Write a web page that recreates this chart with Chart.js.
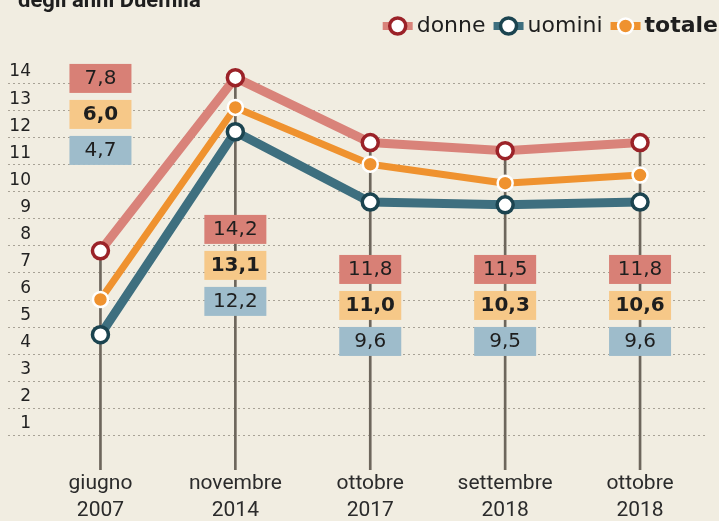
<!DOCTYPE html>
<html lang="it">
<head>
<meta charset="utf-8">
<title>Disoccupazione degli anni Duemila</title>
<script src="https://cdn.jsdelivr.net/npm/chart.js@4.4.1/dist/chart.umd.min.js"></script>
<style>
  html, body { margin: 0; padding: 0; background: #f1ede1; }
  #wrap { position: relative; width: 719px; height: 521px; }
</style>
</head>
<body>
<div id="wrap"><canvas id="chart"></canvas></div>
<script>
const titleText = 'degli anni Duemila';
const categories = [['giugno', '2007'], ['novembre', '2014'], ['ottobre', '2017'], ['settembre', '2018'], ['ottobre', '2018']];
const donne = [7.8, 14.2, 11.8, 11.5, 11.8];
const uomini = [4.7, 12.2, 9.6, 9.5, 9.6];
const totale = [6.0, 13.1, 11.0, 10.3, 10.6];
const yTickLabels = [1, 2, 3, 4, 5, 6, 7, 8, 9, 10, 11, 12, 13, 14];

// where the first value box of each column sits (in axis units)
const boxAnchor = [14.19, 8.61, 7.13, 7.13, 7.13];

const colors = {
    donneLine: '#d9837a', donnePoint: '#9b2228', donneBox: '#d88076',
    totaleLine: '#ef922f', totaleBox: '#f6c888',
    uominiLine: '#3e6f7f', uominiPoint: '#1b4450', uominiBox: '#9ebccb',
    stem: '#6d665c', grid: '#a8a296', text: '#1e1e1e'
};

function fmt(v) {
    return v.toFixed(1).replace('.', ',');
}

const gridPlugin = {
    id: 'dottedGrid',
    beforeDatasetsDraw(chart) {
        const ctx = chart.ctx;
        const y = chart.scales.y;
        ctx.save();
        ctx.strokeStyle = colors.grid;
        ctx.lineWidth = 1.2;
        ctx.setLineDash([2, 3]);
        yTickLabels.forEach(v => {
            const py = Math.round(y.getPixelForValue(v)) + 0.5;
            ctx.beginPath();
            ctx.moveTo(8, py);
            ctx.lineTo(chart.chartArea.right, py);
            ctx.stroke();
        });
        ctx.restore();
    }
};

const boxPlugin = {
    id: 'valueBoxes',
    afterDatasetsDraw(chart) {
        const ctx = chart.ctx;
        const x = chart.scales.x;
        const y = chart.scales.y;
        const rows = [
            { data: donne, bg: colors.donneBox, weight: 'normal' },
            { data: totale, bg: colors.totaleBox, weight: 'bold' },
            { data: uomini, bg: colors.uominiBox, weight: 'normal' }
        ];
        ctx.save();
        ctx.textAlign = 'center';
        ctx.textBaseline = 'middle';
        categories.forEach((c, i) => {
            const cx = x.getPixelForValue(i);
            const top = y.getPixelForValue(boxAnchor[i]);
            rows.forEach((r, k) => {
                const cy = top + k * 36;
                ctx.fillStyle = r.bg;
                ctx.fillRect(cx - 31, cy - 14, 62, 29);
                ctx.fillStyle = colors.text;
                ctx.font = r.weight + ' 20px "DejaVu Sans"';
                ctx.fillText(fmt(r.data[i]), cx, cy + 1);
            });
        });
        ctx.restore();
    }
};

function drawMarker(ctx, x, y, ds) {
    ctx.save();
    ctx.strokeStyle = ds.borderColor;
    ctx.lineWidth = 8;
    ctx.beginPath();
    ctx.moveTo(x, y);
    ctx.lineTo(x + 30, y);
    ctx.stroke();
    ctx.beginPath();
    ctx.arc(x + 15, y, ds.pointRadius, 0, Math.PI * 2);
    ctx.fillStyle = ds.pointBackgroundColor;
    ctx.fill();
    ctx.lineWidth = ds.pointBorderWidth;
    ctx.strokeStyle = ds.pointBorderColor;
    ctx.stroke();
    ctx.restore();
}

const headerPlugin = {
    id: 'header',
    afterDraw(chart) {
        const ctx = chart.ctx;
        ctx.save();
        ctx.fillStyle = colors.text;
        ctx.font = 'bold 22px Roboto';
        ctx.textBaseline = 'alphabetic';
        ctx.fillText(titleText, 18, 7);

        const items = chart.data.datasets.filter(d => d.type === 'line');
        const ly = 26;
        let widths = items.map(d => {
            ctx.font = (d.label === 'totale' ? 'bold ' : '') + '22px "DejaVu Sans"';
            return ctx.measureText(d.label).width;
        });
        let total = widths.reduce((a, b) => a + b, 0) + items.length * 34 + (items.length - 1) * 8;
        let px = 718 - total;
        ctx.textBaseline = 'middle';
        items.forEach((d, i) => {
            drawMarker(ctx, px, ly, d);
            px += 34;
            ctx.font = (d.label === 'totale' ? 'bold ' : '') + '22px "DejaVu Sans"';
            ctx.fillStyle = colors.text;
            ctx.fillText(d.label, px, ly);
            px += widths[i] + 8;
        });
        ctx.restore();
    }
};

const ctx = document.getElementById('chart').getContext('2d');

new Chart(ctx, {
    data: {
        labels: categories,
        datasets: [
            {
                type: 'line',
                label: 'donne',
                data: donne,
                borderColor: colors.donneLine,
                borderWidth: 9,
                borderJoinStyle: 'round',
                pointRadius: 8,
                pointBorderWidth: 3.5,
                pointBackgroundColor: '#ffffff',
                pointBorderColor: colors.donnePoint,
                tension: 0,
                order: 3
            },
            {
                type: 'line',
                label: 'uomini',
                data: uomini,
                borderColor: colors.uominiLine,
                borderWidth: 9,
                borderJoinStyle: 'round',
                pointRadius: 8,
                pointBorderWidth: 3.5,
                pointBackgroundColor: '#ffffff',
                pointBorderColor: colors.uominiPoint,
                tension: 0,
                order: 1
            },
            {
                type: 'line',
                label: 'totale',
                data: totale,
                borderColor: colors.totaleLine,
                borderWidth: 7,
                borderJoinStyle: 'round',
                pointRadius: 7.5,
                pointBorderWidth: 2.5,
                pointBackgroundColor: colors.totaleLine,
                pointBorderColor: '#ffffff',
                tension: 0,
                order: 2
            },
            {
                type: 'bar',
                label: 'stems',
                data: donne,
                base: -0.3,
                backgroundColor: colors.stem,
                barThickness: 2,
                order: 4
            }
        ]
    },
    options: {
        responsive: true,
        maintainAspectRatio: false,
        animation: false,
        layout: {
            padding: { top: 56, right: 4, bottom: 0, left: 0 }
        },
        scales: {
            x: {
                offset: true,
                grid: { display: false },
                border: { display: false },
                ticks: {
                    color: '#2b2b2b',
                    padding: -8,
                    maxRotation: 0,
                    font: { family: 'Roboto', size: 21, lineHeight: 1.3 }
                },
                afterFit: function(scale) {
                    scale.height = 51;
                }
            },
            y: {
                min: -0.3,
                max: 15,
                grid: { display: false, drawTicks: false },
                border: { display: false },
                ticks: {
                    stepSize: 1,
                    padding: 2,
                    labelOffset: -11,
                    color: '#222222',
                    font: { family: 'DejaVu Sans', size: 17 },
                    callback: function(value) {
                        return yTickLabels.includes(value) ? String(value) : '';
                    }
                },
                afterFit: function(scale) {
                    scale.width = 33;
                }
            }
        },
        plugins: {
            legend: { display: false },
            tooltip: { enabled: false }
        }
    },
    plugins: [gridPlugin, boxPlugin, headerPlugin]
});
</script>
</body>
</html>
